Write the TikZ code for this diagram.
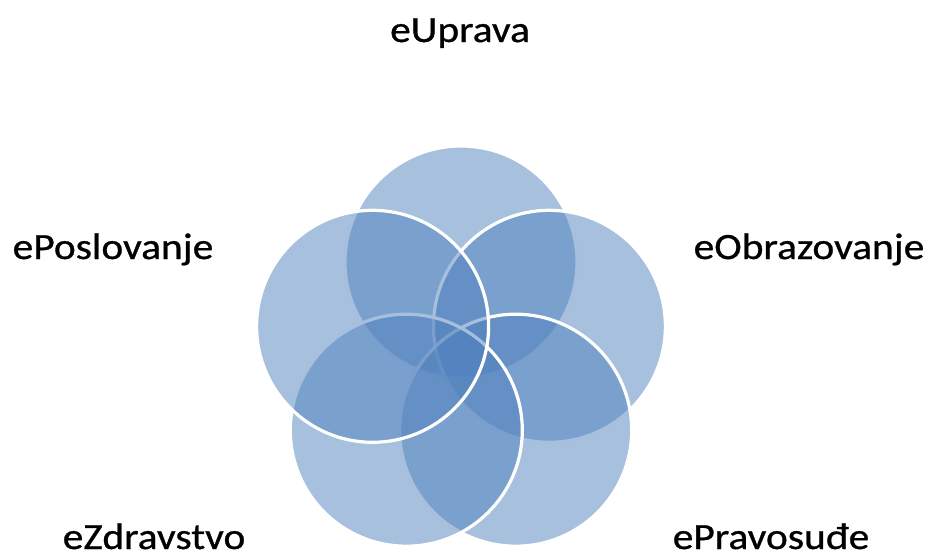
\documentclass[tikz,border=0pt]{standalone}
\usepackage{fontspec}
\setmainfont{Carlito}[FakeStretch=1.12,FakeBold=0.8]
\definecolor{petal}{HTML}{4F81BD}
\begin{document}
\begin{tikzpicture}[x=1pt,y=-1pt,
  petalcircle/.style={circle, minimum size=232pt, inner sep=0pt,
    fill=petal, fill opacity=0.5, draw=white, draw opacity=1, line width=3.2pt},
  petallabel/.style={anchor=base, inner sep=0pt, text=black,
    font=\fontsize{37}{44}\selectfont}]
  \useasboundingbox (0,0) rectangle (927,554);
  % five overlapping circles on a pentagon around (461,355), radius 93
  \node[petalcircle] (upr) at (461,262) {};
  \node[petalcircle] (obr) at (549.4,326.3) {};
  \node[petalcircle] (pra) at (515.7,430.2) {};
  \node[petalcircle] (zdr) at (406.3,430.2) {};
  \node[petalcircle] (pos) at (372.6,326.3) {};
  % labels
  \node[petallabel] (lupr) at (460,42) {eUprava};
  \node[petallabel] (lobr) at (809,259) {eObrazovanje};
  \node[petallabel] (lpos) at (113,259) {ePoslovanje};
  \node[petallabel] (lzdr) at (154,549) {eZdravstvo};
  \node[petallabel] (lpra) at (771,549) {ePravosuđe};
\end{tikzpicture}
\end{document}
